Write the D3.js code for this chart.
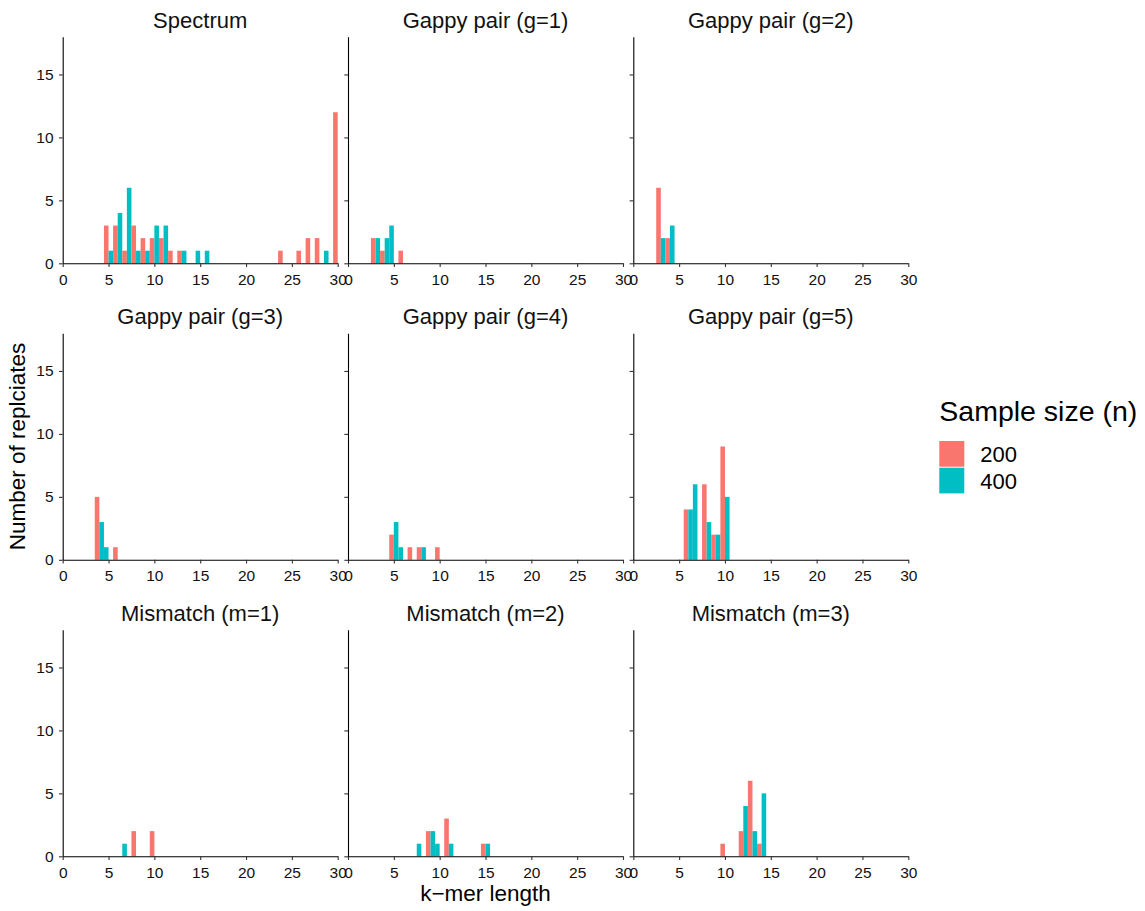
<!DOCTYPE html>
<html>
<head>
<meta charset="utf-8">
<script src="https://cdn.jsdelivr.net/npm/d3@7"></script>
<style>
  body { margin: 0; background: #fff; }
  svg text { font-family: "Liberation Sans", Arial, sans-serif; }
</style>
</head>
<body>
<svg id="chart"></svg>
<script>

// facet titles, in reading order
const panelNames = [
	'Spectrum', 'Gappy pair (g=1)', 'Gappy pair (g=2)',
	'Gappy pair (g=3)', 'Gappy pair (g=4)', 'Gappy pair (g=5)',
	'Mismatch (m=1)', 'Mismatch (m=2)', 'Mismatch (m=3)'
]
const sampleSizes = ['200', '400']
const colors = ['#F8766D', '#00BFC4']

// [k-mer length, replicates for n=200, replicates for n=400]
const spectrum = [[5,3,1],[6,3,4],[7,1,6],[8,3,1],[9,2,1],[10,2,3],[11,2,3],[12,1,0],[13,1,1],
	[15,0,1],[16,0,1],[24,1,0],[26,1,0],[27,2,0],[28,2,0],[29,0,1],[30,12,0]]
const gappy1 = [[3,2,2],[4,1,2],[5,0,3],[6,1,0]]
const gappy2 = [[3,6,2],[4,2,3]]
const gappy3 = [[4,5,3],[5,0,1],[6,1,0]]
const gappy4 = [[5,2,3],[6,0,1],[7,1,0],[8,1,1],[10,1,0]]
const gappy5 = [[6,4,4],[7,0,6],[8,6,3],[9,2,2],[10,9,5]]
const mismatch1 = [[7,0,1],[8,2,0],[10,2,0]]
const mismatch2 = [[8,0,1],[9,2,2],[10,0,1],[11,3,1],[15,1,1]]
const mismatch3 = [[10,1,0],[12,2,4],[13,6,2],[14,1,5]]

const panelData = [spectrum, gappy1, gappy2, gappy3, gappy4, gappy5, mismatch1, mismatch2, mismatch3]

const xTicks = [0, 5, 10, 15, 20, 25, 30]
const yTicks = [0, 5, 10, 15]

let width = 1145, height = 911
let panelW = 275, panelH = 226.6
let colX = [62.7, 348, 633.3], rowY = [36.7, 333.2, 629.7]

let svg = d3.select('#chart')
	.attr('width', width)
	.attr('height', height)

let scX = d3.scaleLinear().domain([0, 30]).range([0, panelW])
let scY = d3.scaleLinear().domain([0, 18]).range([panelH, 0])

panelData.forEach((rows, p) => {
	let col = p % 3, row = Math.floor(p / 3)
	let g = svg.append('g')
		.attr('transform', `translate(${colX[col]}, ${rowY[row]})`)

	// dodge like ggplot preserve = "single": groups present at a k fill slots from the left
	let bars = []
	rows.forEach(r => {
		let slot = 0
		sampleSizes.forEach((s, i) => {
			if (r[i + 1] > 0) {
				bars.push({ k: r[0], n: r[i + 1], grp: i, slot: slot })
				slot++
			}
		})
	})

	g.selectAll('rect')
		.data(bars).enter().append('rect')
		.attr('x', d => scX(d.k - 0.5 + d.slot * 0.5))
		.attr('width', scX(0.5) - scX(0))
		.attr('y', d => scY(d.n))
		.attr('height', d => scY(0) - scY(d.n))
		.attr('fill', d => colors[d.grp])

	let axX = d3.axisBottom(scX).tickValues(xTicks).tickSize(3.7).tickSizeOuter(0).tickPadding(6.5)
	let gx = g.append('g')
		.attr('transform', `translate(0, ${panelH})`)
		.call(axX)

	let axY = d3.axisLeft(scY).tickValues(yTicks).tickSize(3.7).tickSizeOuter(0).tickPadding(5.5)
	if (col > 0) axY.tickFormat('')
	let gy = g.append('g').call(axY)

	;[gx, gy].forEach(a => {
		a.select('.domain').attr('stroke', '#000').attr('stroke-width', 1.1)
		a.selectAll('.tick line').attr('stroke', '#333').attr('stroke-width', 1.1)
		a.selectAll('.tick text').attr('fill', '#111').style('font-size', '15.5px')
	})

	g.append('text')
		.attr('x', panelW / 2)
		.attr('y', -9)
		.attr('text-anchor', 'middle')
		.style('font-size', '22px')
		.attr('fill', '#111')
		.text(panelNames[p])
})

// axis titles
svg.append('text')
	.attr('x', (colX[0] + colX[2] + panelW) / 2)
	.attr('y', 901)
	.attr('text-anchor', 'middle')
	.style('font-size', '22.5px')
	.text('k\u2212mer length')

svg.append('text')
	.attr('transform', `translate(25, ${(rowY[0] + rowY[2] + panelH) / 2}) rotate(-90)`)
	.attr('text-anchor', 'middle')
	.style('font-size', '22.5px')
	.text('Number of replciates')

// legend
let leg = svg.append('g').attr('transform', 'translate(939.3, 421)')
leg.append('text')
	.attr('x', 0).attr('y', 0)
	.style('font-size', '28.5px')
	.text('Sample size (n)')

sampleSizes.forEach((s, i) => {
	leg.append('rect')
		.attr('x', 0).attr('y', 20 + i * 26.7)
		.attr('width', 25).attr('height', 25.7)
		.attr('fill', colors[i])
	leg.append('text')
		.attr('x', 41).attr('y', 20 + i * 26.7 + 13)
		.attr('dy', '0.36em')
		.style('font-size', '22px')
		.text(s)
})

</script>
</body>
</html>
